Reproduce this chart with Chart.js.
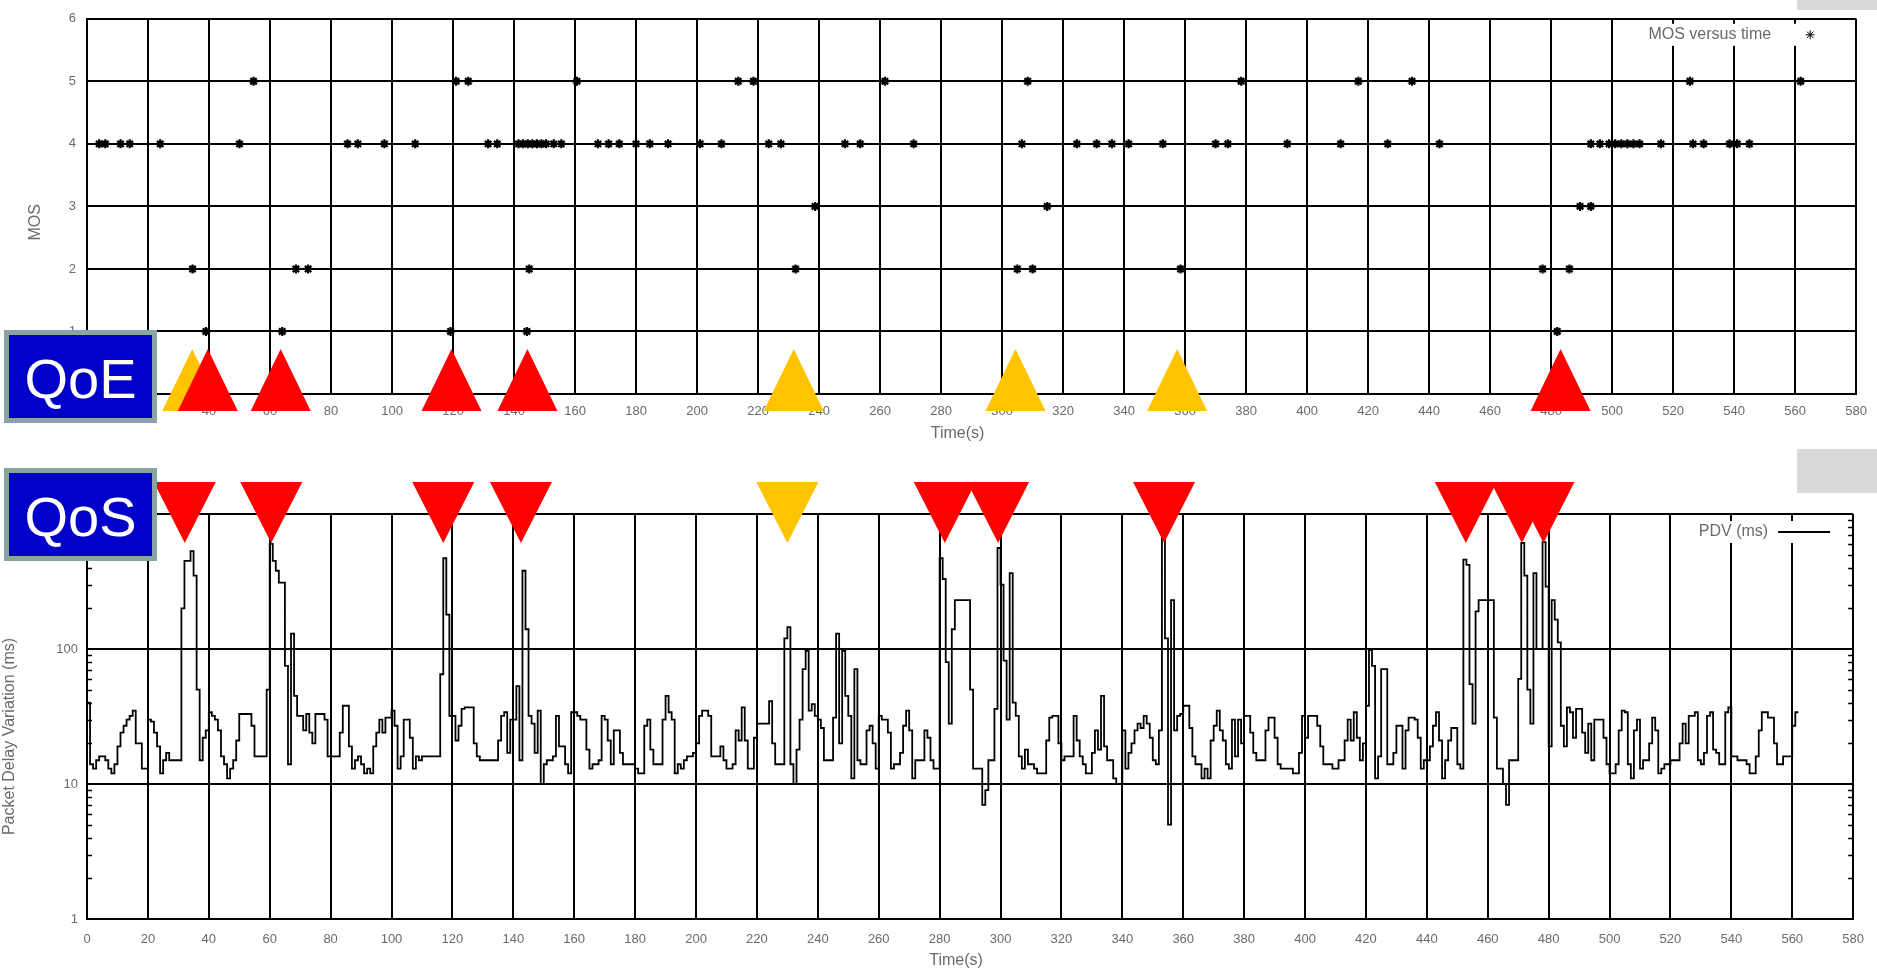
<!DOCTYPE html>
<html>
<head>
<meta charset="utf-8">
<title>MOS and PDV versus time</title>
<script src="https://cdn.jsdelivr.net/npm/chart.js@4.4.1/dist/chart.umd.min.js"></script>
<style>
  html, body { margin: 0; padding: 0; background: #fff; }
  body { position: relative; width: 1877px; height: 972px; overflow: hidden;
         font-family: 'Liberation Sans', Arial, sans-serif; }
  canvas { position: absolute; left: 0; }
  #mosCanvas { top: 0; }
  #pdvCanvas { top: 470px; }
  .tag { position: absolute; left: 4px; width: 153px; height: 93px; box-sizing: border-box;
         border: 5px solid #8aa4a4; background: #0000c8; color: #fff;
         font-size: 56px; line-height: 88px; text-align: center; z-index: 2; }
  #qoeTag { top: 330px; }
  #qosTag { top: 468px; }
  .shade { position: absolute; left: 1797px; width: 80px; background: #d9d9d9; z-index: 2; }
</style>
</head>
<body>
<canvas id="mosCanvas" width="1877" height="450"></canvas>
<canvas id="pdvCanvas" width="1877" height="502"></canvas>
<div class="tag" id="qoeTag">QoE</div>
<div class="tag" id="qosTag">QoS</div>
<div class="shade" style="top:0;height:10px"></div>
<div class="shade" style="top:449px;height:44px"></div>
<script>
// ---- data ------------------------------------------------------------------

// MOS samples: time (s) and score
const mosTime = [
  4, 6, 11, 14, 24, 34.6, 39, 50, 54.6, 64, 68.5, 72.5, 85.4, 88.8, 97.5, 107.6,
  119.2, 121, 125, 131.5, 134.5, 141.5, 143, 144.2, 144.5, 145, 146, 147.5, 149, 150.5, 153, 155.5,
  160.6, 167.5, 171, 174.5, 180, 184.5, 190.5, 201, 208, 213.5, 218.5, 223.5, 227.5, 232.3, 238.7,
  248.5, 253.5, 261.6, 271, 305, 306.5, 308.4, 310, 314.8, 324.5, 331, 336, 341.5, 352.7,
  358.5, 370, 374, 378.4, 393.5, 411, 416.8, 426.4, 434.4, 443.4, 477.2, 482, 486, 489.5,
  493, 493, 496, 499, 501, 503, 505, 507, 509, 516, 525.5, 526.5, 530, 538.5, 541, 545, 561.8
];
const mosScore = [
  4, 4, 4, 4, 4, 2, 1, 4, 5, 1, 2, 2, 4, 4, 4, 4,
  1, 5, 5, 4, 4, 4, 4, 1, 4, 2, 4, 4, 4, 4, 4, 4,
  5, 4, 4, 4, 4, 4, 4, 4, 4, 5, 5, 4, 4, 2, 3,
  4, 4, 5, 4, 2, 4, 5, 2, 3, 4, 4, 4, 4, 4,
  2, 4, 4, 5, 4, 4, 5, 4, 5, 4, 2, 1, 2, 3,
  3, 4, 4, 4, 4, 4, 4, 4, 4, 4, 5, 4, 4, 4, 4, 4, 5
];

// packet delay variation (ms), one sample per second from t = 0
const pdvStep = 1;
const pdvMs = [
  40, 14, 13, 15, 16, 16, 15, 13, 12, 14, 19, 24, 27, 30, 32, 35, 20, 20, 13, 13,
  30, 29, 24, 19, 12, 15, 17, 15, 15, 15, 15, 200, 450, 450, 530, 350, 50, 15, 22, 25,
  34, 32, 30, 25, 16, 14, 11, 13, 15, 21, 33, 33, 33, 33, 27, 16, 16, 16, 16, 50,
  600, 450, 380, 310, 310, 75, 14, 130, 45, 32, 32, 25, 33, 24, 20, 33, 33, 33, 30, 16,
  16, 16, 16, 24, 38, 38, 19, 13, 15, 16, 14, 12, 13, 12, 19, 24, 30, 24, 31, 31,
  35, 27, 13, 16, 30, 30, 22, 13, 16, 15, 16, 16, 16, 16, 16, 16, 65, 470, 180, 32,
  32, 21, 27, 36, 37, 37, 37, 20, 16, 15, 15, 15, 15, 15, 15, 21, 32, 34, 17, 30,
  30, 53, 15, 380, 140, 32, 28, 17, 35, 10, 14, 15, 15, 16, 32, 19, 19, 14, 12, 34,
  34, 32, 30, 30, 18, 13, 14, 14, 15, 32, 30, 21, 14, 25, 25, 17, 14, 14, 14, 14,
  13, 12, 12, 27, 30, 18, 14, 14, 14, 30, 45, 34, 30, 12, 14, 13, 15, 16, 16, 17,
  20, 32, 35, 35, 32, 16, 16, 16, 19, 15, 13, 13, 14, 25, 21, 37, 21, 13, 13, 22,
  28, 28, 28, 28, 41, 20, 14, 14, 14, 120, 145, 14, 10, 18, 30, 71, 97, 35, 39, 32,
  30, 26, 15, 15, 15, 31, 130, 20, 97, 45, 32, 11, 71, 15, 14, 14, 25, 27, 20, 13,
  32, 30, 30, 24, 13, 14, 14, 17, 27, 35, 25, 11, 15, 15, 15, 25, 22, 15, 13, 13,
  470, 330, 80, 28, 140, 230, 230, 230, 230, 230, 50, 13, 13, 13, 7, 9, 15, 15, 36, 560,
  300, 82, 30, 365, 40, 32, 16, 13, 18, 14, 14, 13, 12, 12, 12, 21, 31, 32, 32, 20,
  15, 16, 16, 16, 32, 21, 16, 14, 12, 12, 17, 25, 18, 45, 19, 15, 15, 11, 10, 10,
  25, 13, 17, 20, 25, 28, 26, 32, 28, 22, 15, 14, 25, 700, 120, 5, 230, 25, 32, 33,
  38, 38, 26, 16, 14, 14, 11, 13, 11, 21, 27, 35, 25, 21, 14, 13, 30, 16, 30, 20,
  32, 32, 24, 17, 15, 15, 15, 25, 31, 31, 22, 14, 13, 13, 13, 13, 12, 12, 17, 32,
  22, 32, 32, 32, 27, 19, 14, 14, 14, 13, 13, 15, 15, 21, 30, 21, 34, 22, 15, 20,
  38, 98, 75, 11, 16, 71, 71, 14, 14, 17, 27, 27, 13, 25, 31, 31, 30, 22, 13, 15,
  15, 19, 27, 34, 21, 11, 15, 21, 26, 26, 14, 13, 460, 420, 55, 28, 190, 230, 230, 230,
  230, 230, 31, 13, 13, 10, 7, 15, 15, 15, 60, 610, 350, 50, 28, 365, 100, 100, 620, 290,
  19, 230, 165, 112, 27, 19, 37, 34, 22, 36, 36, 24, 17, 28, 15, 30, 30, 30, 22, 14,
  12, 12, 14, 25, 35, 34, 14, 11, 25, 30, 13, 15, 15, 20, 31, 25, 12, 13, 14, 14,
  15, 15, 15, 20, 28, 20, 32, 32, 34, 15, 14, 17, 32, 34, 18, 17, 14, 14, 34, 37,
  16, 16, 15, 15, 15, 14, 12, 12, 16, 25, 34, 34, 31, 31, 20, 14, 14, 16, 16, 16,
  27, 34, 34
];

// degradation events seen on each layer: time (s) and severity
const qoeEventTime  = [34.5, 39.6, 63.5, 119.5, 144.4, 231.7, 304.4, 357.4, 483.1];
const qoeEventLevel = ['minor', 'major', 'major', 'major', 'major', 'minor', 'minor', 'minor', 'major'];
const qosEventTime  = [32.1, 60.5, 117, 142.5, 230, 281.7, 299.2, 353.7, 452.8, 471.2, 478.3];
const qosEventLevel = ['major', 'major', 'major', 'major', 'minor', 'major', 'major', 'major', 'major', 'major', 'major'];

// axis ticks
const timeTicks = [0, 20, 40, 60, 80, 100, 120, 140, 160, 180, 200, 220, 240, 260, 280,
                   300, 320, 340, 360, 380, 400, 420, 440, 460, 480, 500, 520, 540, 560, 580];
const mosTicks = [0, 1, 2, 3, 4, 5, 6];
const pdvTicks = [1, 10, 100, 1000];

// ---- look ------------------------------------------------------------------
const FONT = "'Liberation Sans', Arial, sans-serif";
const TEXT = '#6a6a6a';
const LABEL_PX = 16;
const levelColor = { major: '#ff0000', minor: '#ffc300' };

Chart.defaults.font.family = FONT;
Chart.defaults.font.size = 13;
Chart.defaults.color = TEXT;

const useTicks = list => scale => { scale.ticks = list.map(v => ({ value: v })); };

const gridOpts = { color: '#000', lineWidth: 2, drawTicks: false };
const borderOpts = { color: '#000', width: 2 };

// axis titles, placed the way gnuplot puts them
const axisTitles = {
  id: 'axisTitles',
  afterDraw(chart, args, opts) {
    const { ctx, chartArea } = chart;
    ctx.save();
    ctx.font = LABEL_PX + 'px ' + FONT;
    ctx.fillStyle = TEXT;
    ctx.textAlign = 'center';
    ctx.textBaseline = 'middle';
    ctx.fillText(opts.x, (chartArea.left + chartArea.right) / 2 + opts.xShift, chartArea.bottom + opts.xGap);
    ctx.translate(opts.yPos, (chartArea.top + chartArea.bottom) / 2 + opts.yShift);
    ctx.rotate(-Math.PI / 2);
    ctx.fillText(opts.y, 0, 0);
    ctx.restore();
  }
};

// coloured triangles marking events along the time axis
const eventMarks = {
  id: 'eventMarks',
  afterDraw(chart, args, opts) {
    const { ctx, chartArea } = chart;
    const xs = chart.scales.x;
    ctx.save();
    opts.times.forEach((t, i) => {
      const x = xs.getPixelForValue(t);
      ctx.fillStyle = levelColor[opts.levels[i]];
      ctx.beginPath();
      if (opts.pointing === 'up') {
        const base = chartArea.bottom + 17;
        ctx.moveTo(x, base - 62);
        ctx.lineTo(x + 30, base);
        ctx.lineTo(x - 30, base);
      } else {
        const base = chartArea.top - 32;
        ctx.moveTo(x - 31, base);
        ctx.lineTo(x + 31, base);
        ctx.lineTo(x, base + 61);
      }
      ctx.closePath();
      ctx.fill();
    });
    ctx.restore();
  }
};

// gnuplot-style key in the top right corner
const cornerKey = {
  id: 'cornerKey',
  afterDraw(chart, args, opts) {
    const { ctx, chartArea } = chart;
    const label = chart.data.datasets[0].label;
    const y = chartArea.top + opts.dy;
    const textRight = chartArea.right - 85;
    ctx.save();
    ctx.font = LABEL_PX + 'px ' + FONT;
    const w = ctx.measureText(label).width;
    ctx.fillStyle = '#fff';
    ctx.fillRect(textRight - w - 6, y - 11, (chartArea.right - 18) - (textRight - w - 6), 22);
    ctx.fillStyle = TEXT;
    ctx.textAlign = 'right';
    ctx.textBaseline = 'middle';
    ctx.fillText(label, textRight, y);
    ctx.strokeStyle = '#000';
    ctx.fillStyle = '#000';
    if (opts.sample === 'line') {
      ctx.lineWidth = 1.8;
      ctx.beginPath();
      ctx.moveTo(textRight + 10, y);
      ctx.lineTo(textRight + 62, y);
      ctx.stroke();
    } else {
      Chart.helpers.drawPoint(ctx, { pointStyle: 'star', radius: 4.5, borderWidth: 2.2, rotation: 0 },
        textRight + 39, y);
    }
    ctx.restore();
  }
};

// short minor ticks on both sides of the log axis
const logMinorTicks = {
  id: 'logMinorTicks',
  beforeDatasetsDraw(chart) {
    const { ctx, chartArea } = chart;
    const ys = chart.scales.y;
    ctx.save();
    ctx.strokeStyle = '#000';
    ctx.lineWidth = 1.5;
    ctx.beginPath();
    for (let d = 1; d < 1000; d *= 10) {
      for (let m = 2; m <= 9; m++) {
        const py = Math.round(ys.getPixelForValue(m * d)) + 0.5;
        ctx.moveTo(chartArea.left, py);
        ctx.lineTo(chartArea.left + 5, py);
        ctx.moveTo(chartArea.right - 5, py);
        ctx.lineTo(chartArea.right, py);
      }
    }
    ctx.stroke();
    ctx.restore();
  }
};

const timeAxis = (labelPad, height) => ({
  type: 'linear',
  min: 0,
  max: 580,
  afterBuildTicks: useTicks(timeTicks),
  ticks: { padding: labelPad, maxRotation: 0, autoSkip: false },
  grid: gridOpts,
  border: borderOpts,
  afterFit: s => { s.height = height; }
});

// ---- MOS chart -------------------------------------------------------------
new Chart(document.getElementById('mosCanvas'), {
  type: 'scatter',
  data: {
    datasets: [{
      label: 'MOS versus time',
      data: mosTime.map((t, i) => ({ x: t, y: mosScore[i] })),
      pointStyle: 'star',
      pointRadius: 4.5,
      pointBorderWidth: 2.2,
      borderColor: '#000',
      backgroundColor: '#000'
    }]
  },
  options: {
    responsive: false,
    animation: false,
    devicePixelRatio: 1,
    events: [],
    layout: { padding: { top: 17, right: 19, left: 0, bottom: 0 } },
    scales: {
      x: timeAxis(10, 56),
      y: {
        min: 0,
        max: 6,
        afterBuildTicks: useTicks(mosTicks),
        ticks: { padding: 11 },
        grid: gridOpts,
        border: borderOpts,
        afterFit: s => { s.width = 87; }
      }
    },
    plugins: {
      legend: { display: false },
      tooltip: { enabled: false },
      axisTitles: { x: 'Time(s)', xShift: -14, xGap: 40, y: 'MOS', yPos: 36, yShift: 16 },
      cornerKey: { dy: 16, sample: 'point' },
      eventMarks: { times: qoeEventTime, levels: qoeEventLevel, pointing: 'up' }
    }
  },
  plugins: [axisTitles, cornerKey, eventMarks]
});

// ---- PDV chart -------------------------------------------------------------
new Chart(document.getElementById('pdvCanvas'), {
  type: 'line',
  data: {
    datasets: [{
      label: 'PDV (ms)',
      data: pdvMs.map((v, i) => ({ x: i * pdvStep, y: v })),
      stepped: true,
      borderColor: '#000',
      borderWidth: 1.8,
      pointRadius: 0,
      fill: false
    }]
  },
  options: {
    responsive: false,
    animation: false,
    devicePixelRatio: 1,
    events: [],
    layout: { padding: { top: 44, right: 19, left: 0, bottom: 0 } },
    scales: {
      x: timeAxis(13, 53),
      y: {
        type: 'logarithmic',
        min: 1,
        max: 1000,
        afterBuildTicks: useTicks(pdvTicks),
        ticks: { padding: 9, callback: v => String(v) },
        grid: gridOpts,
        border: borderOpts,
        afterFit: s => { s.width = 87; }
      }
    },
    plugins: {
      legend: { display: false },
      tooltip: { enabled: false },
      axisTitles: { x: 'Time(s)', xShift: -14, xGap: 42, y: 'Packet Delay Variation (ms)', yPos: 10, yShift: 20 },
      cornerKey: { dy: 18, sample: 'line' },
      eventMarks: { times: qosEventTime, levels: qosEventLevel, pointing: 'down' }
    }
  },
  plugins: [logMinorTicks, axisTitles, cornerKey, eventMarks]
});
</script>
</body>
</html>
